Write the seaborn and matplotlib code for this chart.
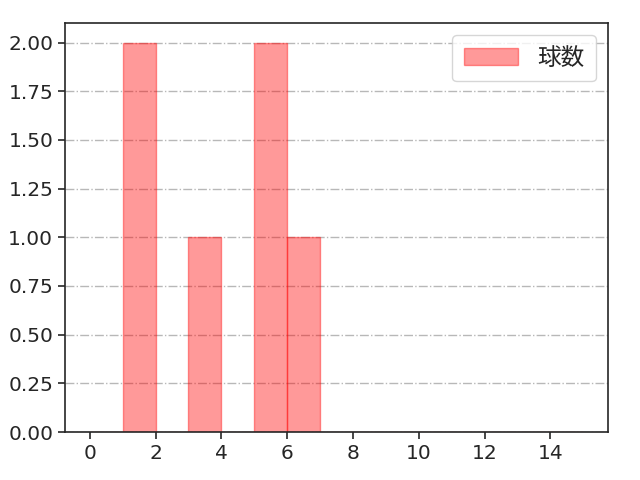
import matplotlib
matplotlib.use("Agg")
import matplotlib.pyplot as plt
import seaborn as sns
import pandas as pd
from matplotlib.ticker import FormatStrFormatter

# data: individual observations (histogram)
values = [1, 1, 3, 5, 5, 6]
bin_edges = list(range(0, 16))
label = "球数"

sns.set_style("ticks")
plt.rcParams['font.family'] = ['Noto Sans CJK JP', 'DejaVu Sans']

fig = plt.figure(figsize=(6.4, 4.8), dpi=100)
ax = fig.add_axes([0.1016, 0.1, 0.8484, 0.852])

df = pd.DataFrame({"v": values})
sns.histplot(data=df, x="v", bins=bin_edges, facecolor=(1, 0, 0, 0.4),
             edgecolor=(1, 0, 0, 0.4), linewidth=1, label=label, ax=ax)

ax.set_xlabel("")
ax.set_ylabel("")
ax.set_xticks(range(0, 15, 2))
ax.yaxis.set_major_formatter(FormatStrFormatter("%.2f"))
ax.grid(axis="y", linestyle="-.", color="#b8b8b8", linewidth=1.0)
ax.set_axisbelow(True)
ax.tick_params(labelsize=14.5, length=5, width=1.2)
for t in ax.get_xticklabels() + ax.get_yticklabels():
    t.set_family("DejaVu Sans")
for s in ax.spines.values():
    s.set_linewidth(1.2)
ax.legend(loc="upper right", fontsize=17, borderpad=0.5, handlelength=2.3)

fig.savefig("out.png", dpi=100)
